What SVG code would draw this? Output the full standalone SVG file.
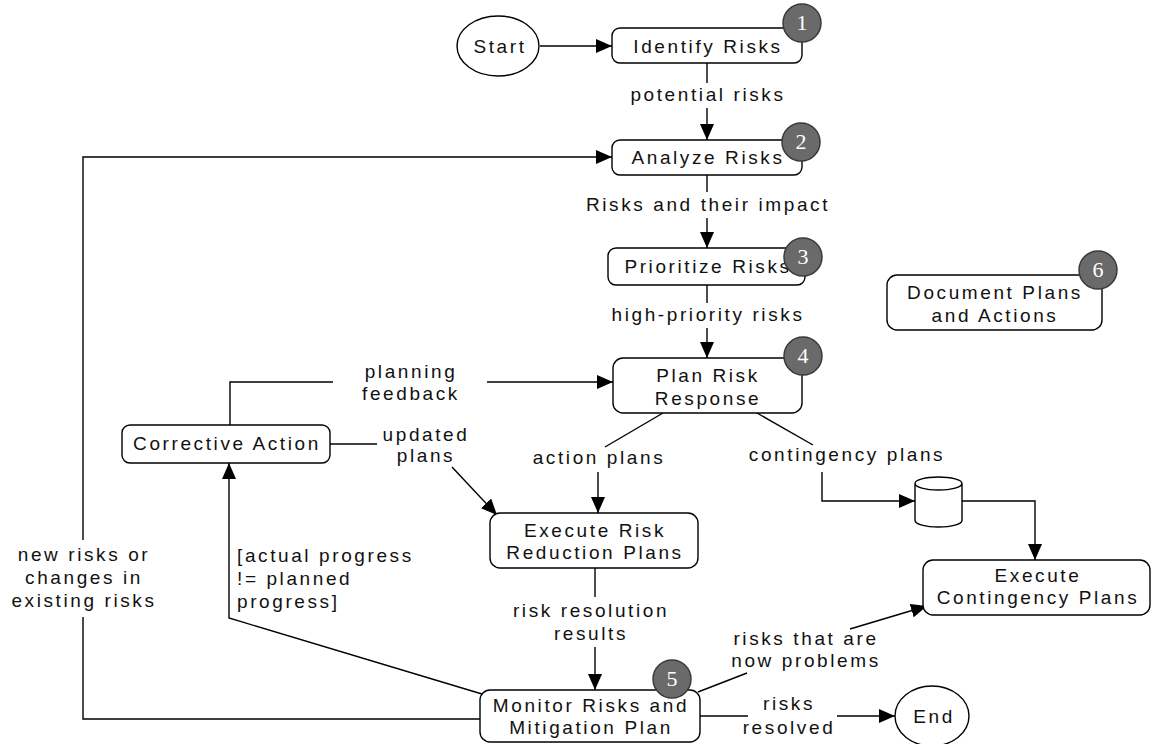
<svg xmlns="http://www.w3.org/2000/svg" width="1153" height="744" viewBox="0 0 1153 744">
<style>
.box{fill:#fff;stroke:#000;stroke-width:1.4}
.t{font-family:"Liberation Sans",Arial,sans-serif;font-size:19px;letter-spacing:2.6px;fill:#111;text-anchor:middle}
.tl{text-anchor:start}
.c{fill:none;stroke:#000;stroke-width:1.4}
.badge{fill:#6a6a6a;stroke:#3a3a3a;stroke-width:1.5}
.bn{font-family:"Liberation Serif","Times New Roman",serif;font-size:22px;fill:#fff;text-anchor:middle}
</style>
<defs>
<marker id="arr" markerWidth="16" markerHeight="14" refX="16" refY="7" orient="auto" markerUnits="userSpaceOnUse"><path d="M0,0 L16,7 L0,14 z" fill="#000"/></marker>
</defs>
<rect width="1153" height="744" fill="#fff"/>

<g id="connectors">
<line class="c" x1="540" y1="46" x2="612" y2="46" marker-end="url(#arr)"/>
<line class="c" x1="707" y1="63" x2="707" y2="83"/>
<line class="c" x1="707" y1="108" x2="707" y2="140" marker-end="url(#arr)"/>
<line class="c" x1="707" y1="175" x2="707" y2="192"/>
<line class="c" x1="707" y1="218" x2="707" y2="248" marker-end="url(#arr)"/>
<line class="c" x1="707" y1="285" x2="707" y2="303"/>
<line class="c" x1="707" y1="328" x2="707" y2="358" marker-end="url(#arr)"/>
<polyline class="c" points="230,425 230,382 333,382"/>
<line class="c" x1="487" y1="382" x2="613" y2="382" marker-end="url(#arr)"/>
<line class="c" x1="330" y1="444" x2="377" y2="444"/>
<line class="c" x1="452" y1="467" x2="497" y2="515" marker-end="url(#arr)"/>
<line class="c" x1="663" y1="413" x2="605" y2="447"/>
<line class="c" x1="598" y1="472" x2="598" y2="513" marker-end="url(#arr)"/>
<line class="c" x1="757" y1="413" x2="813" y2="445"/>
<polyline class="c" points="822,472 822,501 915,501" marker-end="url(#arr)"/>
<polyline class="c" points="962,501 1035,501 1035,560" marker-end="url(#arr)"/>
<line class="c" x1="595" y1="568" x2="595" y2="597"/>
<line class="c" x1="595" y1="647" x2="595" y2="690" marker-end="url(#arr)"/>
<line class="c" x1="698" y1="692" x2="747" y2="673"/>
<line class="c" x1="850" y1="629" x2="927" y2="606" marker-end="url(#arr)"/>
<line class="c" x1="700" y1="716" x2="748" y2="716"/>
<line class="c" x1="837" y1="716" x2="895" y2="716" marker-end="url(#arr)"/>
<polyline class="c" points="480,719 83,719 83,617"/>
<polyline class="c" points="83,540 83,157 612,157" marker-end="url(#arr)"/>
<polyline class="c" points="482,694 229,618 229,463" marker-end="url(#arr)"/>
</g>

<g id="labels">
<text class="t" x="708" y="101">potential risks</text>
<text class="t" x="708" y="211">Risks and their impact</text>
<text class="t" x="708" y="321">high-priority risks</text>
<text class="t" x="411" y="378">planning</text>
<text class="t" x="411" y="400">feedback</text>
<text class="t" x="426" y="441">updated</text>
<text class="t" x="426" y="462">plans</text>
<text class="t" x="599" y="464">action plans</text>
<text class="t" x="847" y="461">contingency plans</text>
<text class="t" x="591" y="617">risk resolution</text>
<text class="t" x="591" y="640">results</text>
<text class="t" x="806" y="645">risks that are</text>
<text class="t" x="806" y="667">now problems</text>
<text class="t" x="789" y="710">risks</text>
<text class="t" x="789" y="734">resolved</text>
<text class="t" x="84" y="561">new risks or</text>
<text class="t" x="84" y="584">changes in</text>
<text class="t" x="84" y="607">existing risks</text>
<text class="t tl" x="237" y="562">[actual progress</text>
<text class="t tl" x="237" y="585">!= planned</text>
<text class="t tl" x="237" y="608">progress]</text>
</g>

<g id="start">
<ellipse class="box" cx="498" cy="46" rx="41" ry="30"/>
<text class="t" x="500" y="53">Start</text>
</g>

<g id="identify">
<rect class="box" x="612" y="28" width="190" height="35" rx="8"/>
<text class="t" x="708" y="53">Identify Risks</text>
<circle class="badge" cx="802" cy="23" r="19"/>
<text class="bn" x="802" y="30">1</text>
</g>

<g id="analyze">
<rect class="box" x="612" y="140" width="190" height="35" rx="8"/>
<text class="t" x="708" y="164">Analyze Risks</text>
<circle class="badge" cx="801" cy="142" r="19"/>
<text class="bn" x="801" y="149">2</text>
</g>

<g id="prioritize">
<rect class="box" x="608" y="248" width="197" height="37" rx="8"/>
<text class="t" x="708" y="273">Prioritize Risks</text>
<circle class="badge" cx="803" cy="257" r="19"/>
<text class="bn" x="803" y="264">3</text>
</g>

<g id="plan">
<rect class="box" x="613" y="358" width="189" height="55" rx="10"/>
<text class="t" x="708" y="382">Plan Risk</text>
<text class="t" x="708" y="405">Response</text>
<circle class="badge" cx="803" cy="356" r="19"/>
<text class="bn" x="803" y="363">4</text>
</g>

<g id="corrective">
<rect class="box" x="122" y="425" width="208" height="38" rx="8"/>
<text class="t" x="227" y="450">Corrective Action</text>
</g>

<g id="execute-reduction">
<rect class="box" x="490" y="513" width="208" height="55" rx="10"/>
<text class="t" x="595" y="537">Execute Risk</text>
<text class="t" x="595" y="559">Reduction Plans</text>
</g>

<g id="store">
<path class="box" d="M915,483.5 V520.5 A23.5,6.5 0 0 0 962,520.5 V483.5 A23.5,6.5 0 0 0 915,483.5 A23.5,6.5 0 0 0 962,483.5"/>
</g>

<g id="execute-contingency">
<rect class="box" x="923" y="560" width="227" height="55" rx="10"/>
<text class="t" x="1038" y="582">Execute</text>
<text class="t" x="1038" y="604">Contingency Plans</text>
</g>

<g id="monitor">
<rect class="box" x="480" y="690" width="220" height="52" rx="10"/>
<text class="t" x="591" y="712">Monitor Risks and</text>
<text class="t" x="591" y="734">Mitigation Plan</text>
<circle class="badge" cx="672" cy="679" r="19"/>
<text class="bn" x="672" y="686">5</text>
</g>

<g id="end">
<ellipse class="box" cx="932" cy="716" rx="37" ry="30"/>
<text class="t" x="934" y="723">End</text>
</g>

<g id="document">
<rect class="box" x="887" y="275" width="215" height="55" rx="10"/>
<text class="t" x="995" y="299">Document Plans</text>
<text class="t" x="995" y="322">and Actions</text>
<circle class="badge" cx="1098" cy="270" r="19"/>
<text class="bn" x="1098" y="277">6</text>
</g>
</svg>
